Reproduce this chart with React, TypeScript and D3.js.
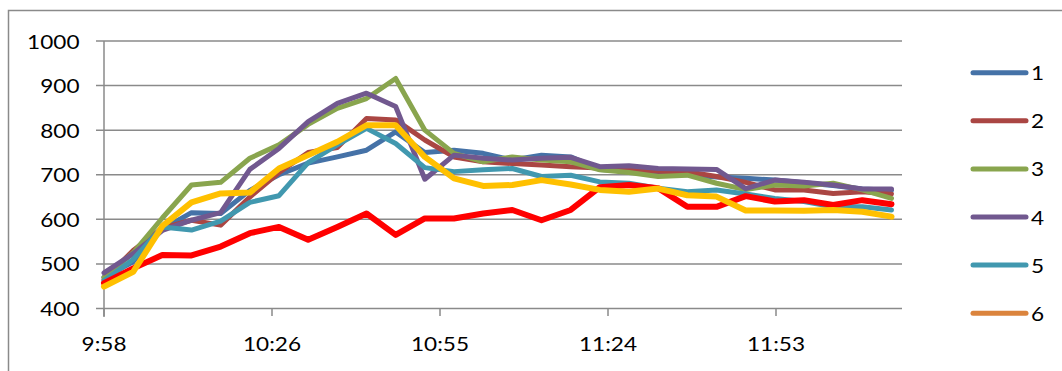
import React from "react";
import * as d3 from "d3";

const times = ["9:58","10:03","10:08","10:13","10:18","10:23","10:28","10:33","10:38","10:43","10:48","10:53","10:58","11:03","11:08","11:13","11:18","11:23","11:28","11:33","11:38","11:43","11:48","11:53","11:58","12:03","12:08","12:13"];

const s1 = [470, 505, 578, 615, 613, 665, 700, 726, 740, 755, 796, 750, 755, 748, 733, 744, 740, 712, 708, 702, 700, 695, 692, 688, 682, 676, 668, 665];
const s2 = [465, 530, 580, 598, 587, 650, 705, 750, 761, 826, 823, 778, 740, 729, 725, 722, 718, 715, 712, 708, 707, 696, 683, 666, 666, 658, 662, 657];
const s3 = [470, 525, 603, 677, 683, 737, 767, 813, 849, 871, 916, 800, 748, 729, 740, 733, 729, 711, 705, 696, 699, 681, 667, 677, 675, 681, 666, 647];
const s4 = [480, 523, 575, 598, 615, 712, 759, 819, 860, 883, 853, 690, 744, 737, 733, 737, 739, 718, 720, 714, 713, 712, 669, 688, 683, 677, 668, 668];
const s5 = [462, 510, 583, 576, 596, 638, 653, 727, 767, 804, 770, 716, 707, 711, 714, 696, 699, 684, 681, 670, 662, 666, 657, 647, 640, 628, 628, 621];
const s6: number[] = [];
const s7 = [457, 490, 520, 519, 539, 569, 583, 554, 583, 613, 565, 602, 602, 613, 621, 598, 621, 672, 677, 670, 628, 628, 652, 640, 643, 632, 643, 634];
const s8 = [449, 482, 585, 638, 658, 660, 714, 744, 774, 811, 811, 740, 692, 675, 677, 688, 678, 666, 662, 669, 654, 651, 620, 620, 619, 621, 617, 606];

const seriesNames = ["1", "2", "3", "4", "5", "6", "7", "8"];
const seriesValues = [s1, s2, s3, s4, s5, s6, s7, s8];
const seriesColors = ["#4572A7", "#AA4643", "#89A54E", "#71588F", "#4198AF", "#DB843D", "#FF0000", "#FFC000"];
const seriesWidths = [5, 5, 5, 5, 5, 5, 6, 6];
const legendCount = 6;

const yTicks = [400, 500, 600, 700, 800, 900, 1000];
const xTickValues = [598, 626.8, 655.6, 684.4, 713.2];
const xTickLabels = ["9:58", "10:26", "10:55", "11:24", "11:53"];

const toMin = (t: string) => {
  const [h, m] = t.split(":").map(Number);
  return h * 60 + m;
};

const FONT = "Lato, 'Liberation Sans', sans-serif";

export default function App() {
  const x = d3.scaleLinear().domain([598, 734.8]).range([104, 902]);
  const y = d3.scaleLinear().domain([400, 1000]).range([308.5, 41]);
  const line = d3
    .line<[number, number]>()
    .x((d) => x(d[0]))
    .y((d) => y(d[1]));
  const grid = "#8a8a8a";

  return (
    <svg
      width={1062}
      height={371}
      style={{ position: "absolute", left: 0, top: 0, background: "#fff" }}
    >
      <rect x={8.5} y={10.5} width={1062} height={380} fill="#fff" stroke={grid} strokeWidth={1.5} />
      {yTicks.map((t) => (
        <line key={t} x1={96} x2={902} y1={y(t)} y2={y(t)} stroke={grid} strokeWidth={1.5} />
      ))}
      <line x1={104} x2={104} y1={y(1000)} y2={317} stroke={grid} strokeWidth={1.5} />
      {xTickValues.map((v) => (
        <line key={v} x1={x(v)} x2={x(v)} y1={y(400)} y2={316} stroke={grid} strokeWidth={1.5} />
      ))}
      {yTicks.map((t) => (
        <text
          key={t}
          transform={`translate(79.5,${y(t) + 7.5}) scale(1.13,1)`}
          textAnchor="end"
          fontFamily={FONT}
          fontSize={20}
          fill="#000"
        >
          {t}
        </text>
      ))}
      {xTickValues.map((v, i) => (
        <text
          key={v}
          transform={`translate(${x(v)},350.5) scale(1.13,1)`}
          textAnchor="middle"
          fontFamily={FONT}
          fontSize={20}
          fill="#000"
        >
          {xTickLabels[i]}
        </text>
      ))}
      {seriesValues.map((vals, si) =>
        vals.length ? (
          <path
            key={si}
            d={line(vals.map((v, i) => [toMin(times[i]), v]) as [number, number][]) || ""}
            fill="none"
            stroke={seriesColors[si]}
            strokeWidth={seriesWidths[si]}
            strokeLinejoin="round"
            strokeLinecap="round"
          />
        ) : null
      )}
      {seriesNames.slice(0, legendCount).map((n, i) => {
        const ly = 72.7 + i * 48.1;
        return (
          <g key={n}>
            <line x1={973} x2={1026} y1={ly} y2={ly} stroke={seriesColors[i]} strokeWidth={5} strokeLinecap="round" />
            <text
              transform={`translate(1031,${ly + 7.5}) scale(1.13,1)`}
              fontFamily={FONT}
              fontSize={20}
              fill="#000"
            >
              {n}
            </text>
          </g>
        );
      })}
    </svg>
  );
}
